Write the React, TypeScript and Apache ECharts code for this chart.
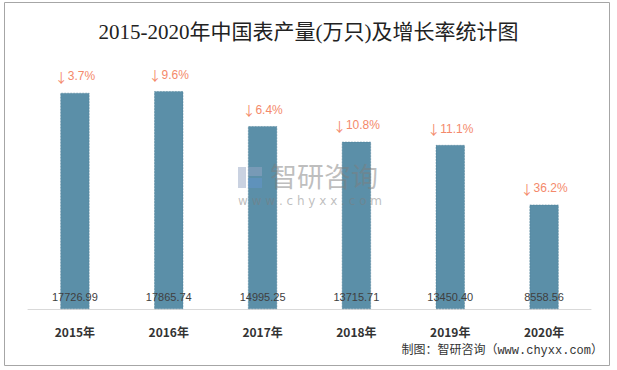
import React, { useEffect, useRef } from "react";
import * as echarts from "echarts";

const categories = ["2015年", "2016年", "2017年", "2018年", "2019年", "2020年"];
const production = [17726.99, 17865.74, 14995.25, 13715.71, 13450.4, 8558.56];
const growth = [-3.7, -9.6, -6.4, -10.8, -11.1, -36.2];

export default function App() {
  const ref = useRef<HTMLDivElement>(null);
  useEffect(() => {
    const chart = echarts.init(ref.current!, null, { renderer: "svg" });
    const wm = "rgba(125,125,125,0.5)";
    chart.setOption({
      animation: false,
      backgroundColor: "#ffffff",
      title: {
        text: "2015-2020年中国表产量(万只)及增长率统计图",
        left: "center",
        top: 16,
        textStyle: {
          fontFamily: "'Liberation Serif', 'Noto Sans CJK SC', serif",
          fontSize: 21,
          fontWeight: "normal",
          color: "#222222",
        },
      },
      grid: { left: 28, right: 26, top: 64, bottom: 61, containLabel: false },
      xAxis: {
        type: "category",
        data: categories,
        axisLine: { lineStyle: { color: "#d9d9d9" } },
        axisTick: { show: false },
        axisLabel: {
          fontWeight: "bold",
          fontSize: 12,
          color: "#333333",
          margin: 16,
          fontFamily: "'Noto Sans CJK SC', sans-serif",
        },
      },
      yAxis: {
        type: "value",
        min: 0,
        max: 20100,
        show: false,
        splitLine: { show: false },
      },
      series: [
        {
          type: "bar",
          data: production,
          barWidth: 29,
          itemStyle: { color: "#5b8fa8", borderColor: "#4d7f97", borderWidth: 0.5, borderType: "dashed" },
          label: {
            show: true,
            position: "insideBottom",
            distance: 7,
            fontSize: 11,
            color: "#404040",
            fontFamily: "'Liberation Sans', sans-serif",
            formatter: (p: any) => p.value.toFixed(2),
          },
          z: 2,
        },
        {
          type: "bar",
          data: production,
          barWidth: 29,
          barGap: "-100%",
          itemStyle: { color: "rgba(0,0,0,0)" },
          label: {
            show: true,
            position: "top",
            distance: 10,
            fontSize: 12,
            color: "#f4896b",
            fontFamily: "'Liberation Sans', sans-serif",
            formatter: (p: any) => {
              const g = growth[p.dataIndex];
              return "{a|" + (g < 0 ? "↓" : "↑") + "}" + Math.abs(g).toFixed(1) + "%";
            },
            rich: {
              a: { fontFamily: "'Noto Sans CJK SC', sans-serif", fontSize: 13, color: "#f4896b" },
            },
          },
          z: 3,
        },
      ],
      graphic: [
        {
          type: "rect",
          shape: { x: 4.5, y: 2.5, width: 605, height: 363 },
          style: { fill: "none", stroke: "#a6a6a6", lineWidth: 1 },
          silent: true,
        },
        {
          type: "group",
          left: 238,
          top: 162,
          silent: true,
          z: 100,
          zlevel: 1,
          children: [
            { type: "rect", z: 100, zlevel: 1, shape: { x: 0, y: 3, width: 8, height: 21 }, style: { fill: "rgba(150,165,195,0.5)" } },
            { type: "rect", z: 100, zlevel: 1, shape: { x: 10, y: 3, width: 14, height: 9 }, style: { fill: "rgba(150,165,195,0.5)" } },
            { type: "rect", z: 100, zlevel: 1, shape: { x: 10, y: 14, width: 14, height: 10 }, style: { fill: "rgba(100,150,205,0.5)" } },
            {
              type: "text",
              z: 100,
              zlevel: 1,
              x: 32,
              y: -2,
              style: {
                text: "智研咨询",
                fontSize: 27,
                fontFamily: "'Noto Sans CJK SC', sans-serif",
                fill: wm,
              },
            },
            {
              type: "text",
              z: 100,
              zlevel: 1,
              x: 0,
              y: 31,
              style: {
                text: "w w w . c h y x x . c o m",
                fontSize: 12,
                fontFamily: "'DejaVu Sans', sans-serif",
                fill: wm,
              },
            },
          ],
        },
        {
          type: "text",
          right: 14,
          top: 345,
          style: {
            text: "制图：智研咨询（www.chyxx.com）",
            fontSize: 12,
            fontFamily: "'Liberation Mono', 'Noto Sans CJK SC', monospace",
            fill: "#333333",
          },
          silent: true,
        },
      ],
    });
    return () => chart.dispose();
  }, []);
  return (
    <div
      ref={ref}
      style={{ position: "fixed", left: 0, top: 0, width: 617, height: 370 }}
    />
  );
}
